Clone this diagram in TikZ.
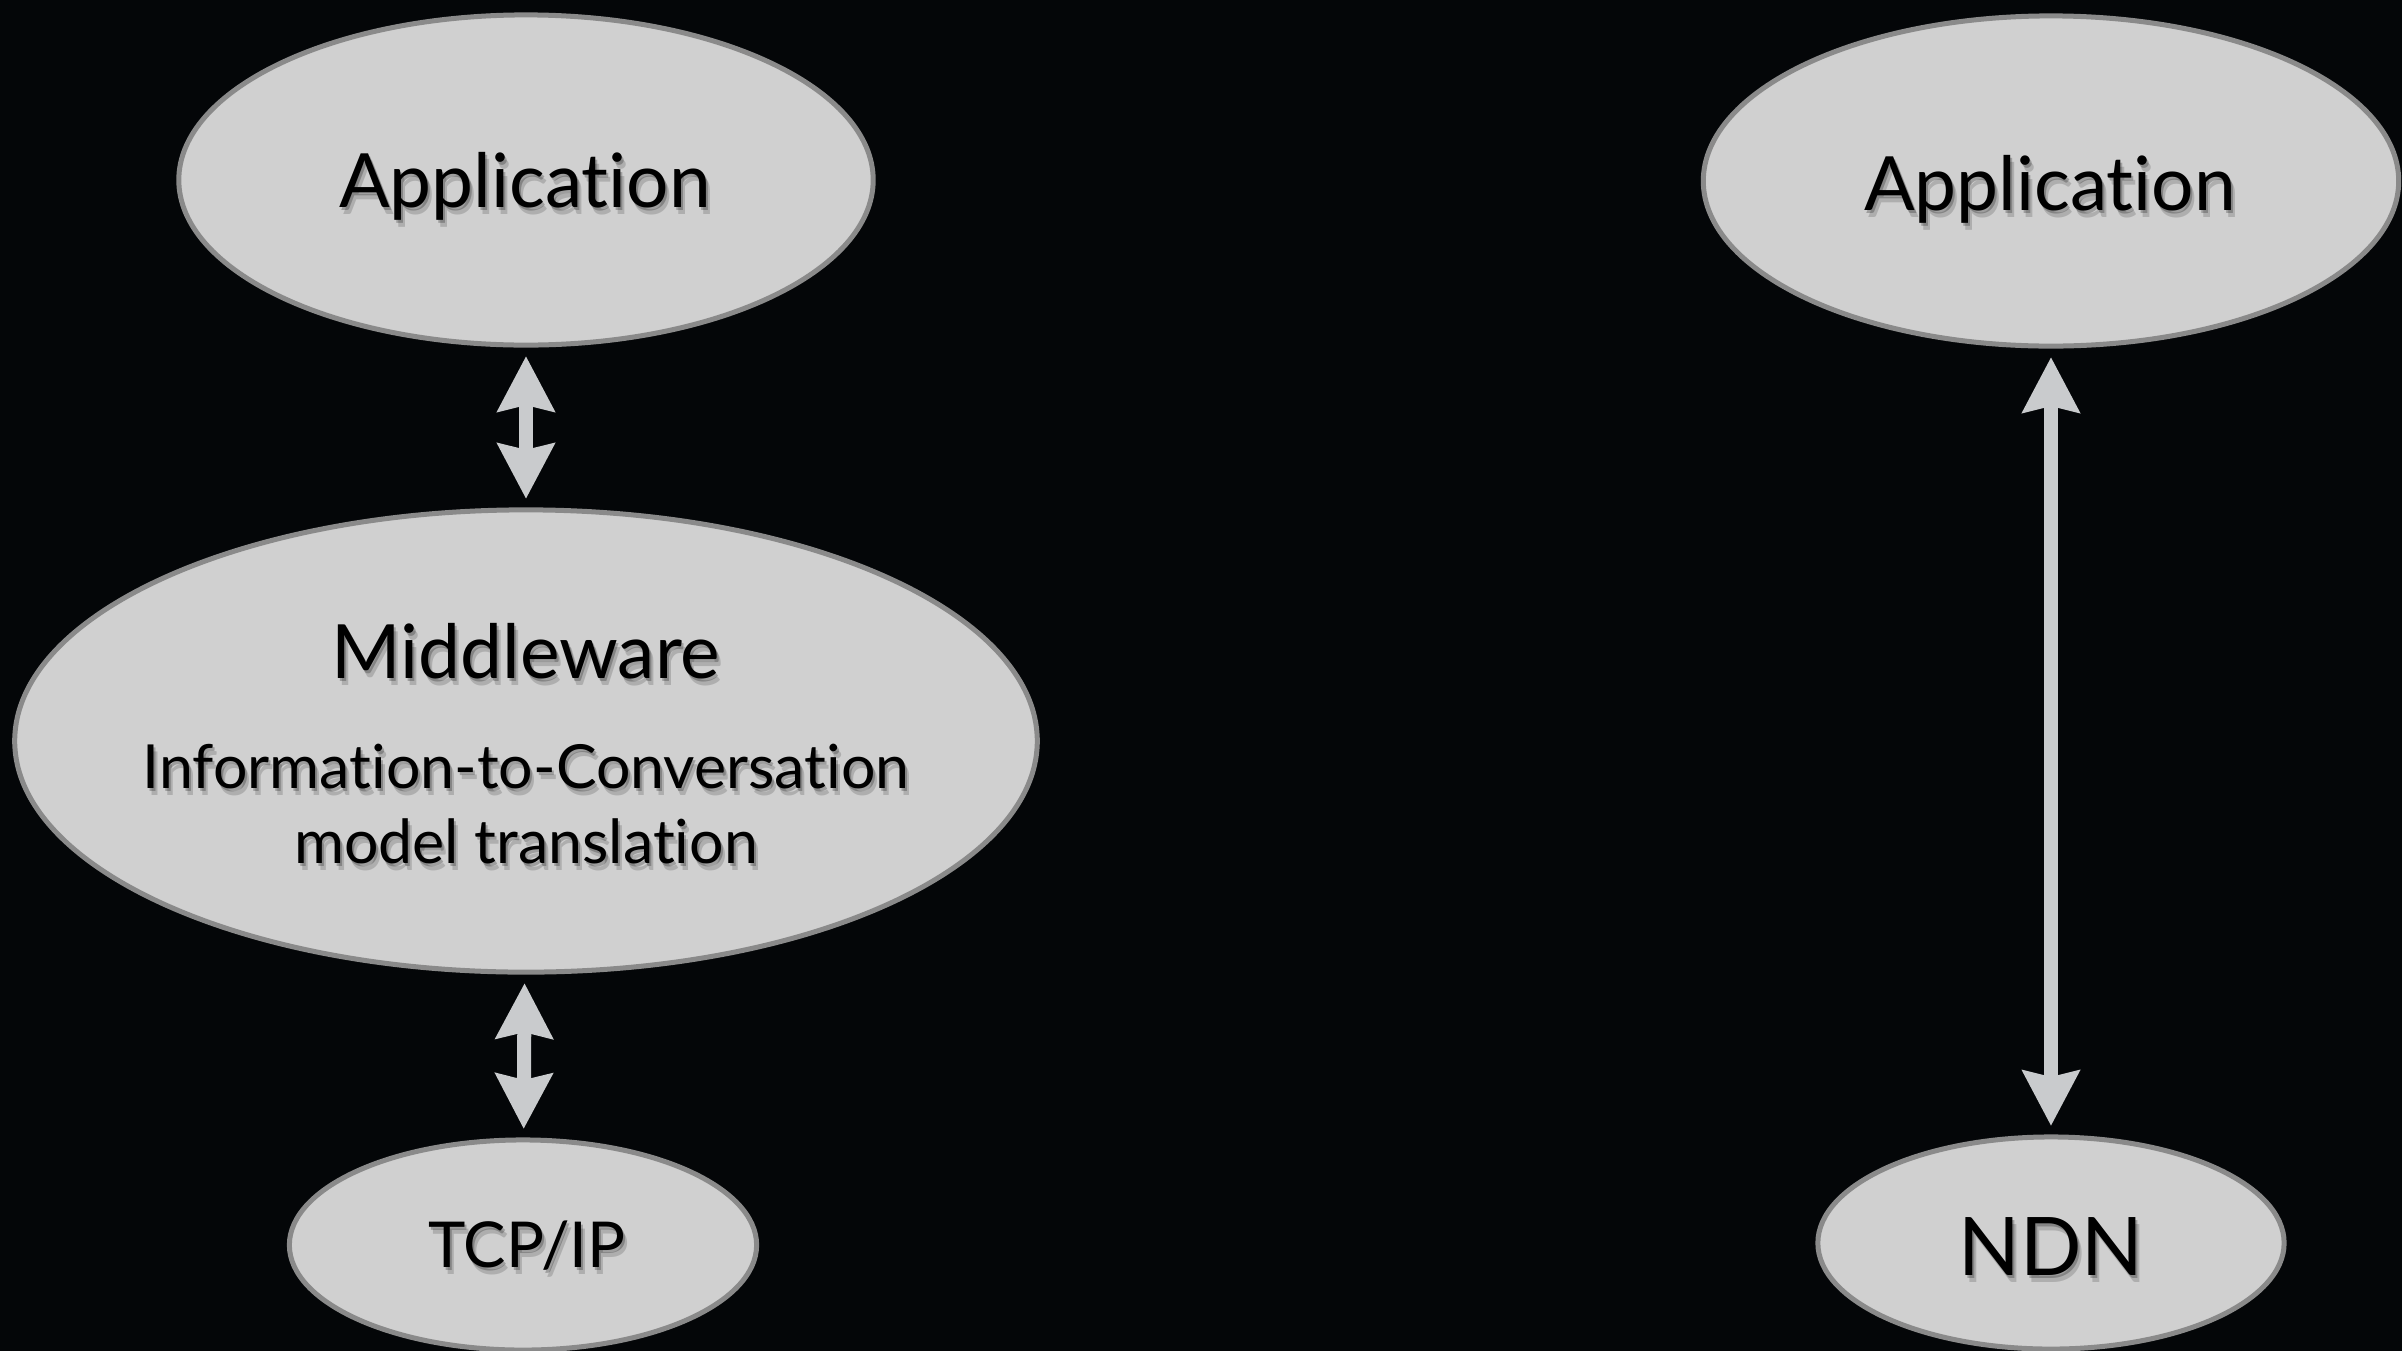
\documentclass[tikz,border=0pt]{standalone}
\usepackage{fontspec}
\setmainfont{Lato}[Ligatures={NoCommon,NoRequired,NoContextual},Contextuals=NoAlternate]
\usetikzlibrary{arrows.meta,shapes.geometric}

\definecolor{bg}{RGB}{4,6,8}
\definecolor{bubble}{RGB}{208,208,208}
\definecolor{rim}{RGB}{138,138,138}
\definecolor{link}{RGB}{201,203,205}

\tikzset{
  layer/.style={ellipse, fill=bubble, draw=rim, line width=0.05cm,
                inner sep=0pt, outer sep=0pt},
  biarrow/.style={draw=link, line width=0.14cm,
                  {Stealth[length=0.55cm,width=0.56cm,inset=0.06cm]}-{Stealth[length=0.55cm,width=0.56cm,inset=0.06cm]},
                  shorten <=0.11cm, shorten >=0.11cm},
  layertext/.style={text=black, inner sep=0pt, anchor=base},
  bigfont/.style={font=\fontsize{21.3pt}{25pt}\selectfont},
  subfont/.style={font=\fontsize{17.3pt}{20pt}\selectfont},
}

% text with a soft drop shadow: name, baseline point, style, text
\newcommand\shadedtext[4]{%
  \node[layertext,#3,text opacity=0.16,xshift=0.04cm,yshift=-0.07cm] (#1s2) at (#2) {#4};
  \node[layertext,#3,text opacity=0.24,xshift=0.02cm,yshift=-0.035cm] (#1s1) at (#2) {#4};
  \node[layertext,#3] (#1) at (#2) {#4};}

\begin{document}
\begin{tikzpicture}[x=0.01cm,y=-0.01cm]
  \fill[bg] (0,0) rectangle (2402,1351);
  \useasboundingbox (0,0) rectangle (2402,1351);

  % left stack: Application / Middleware / TCP/IP
  \node[layer, minimum width=6.94cm, minimum height=3.30cm] (appL) at (526,180) {};
  \node[layer, minimum width=10.22cm, minimum height=4.62cm] (mid) at (526,741) {};
  \node[layer, minimum width=4.67cm, minimum height=2.10cm] (tcp) at (523,1245) {};

  % right stack: Application / NDN
  \node[layer, minimum width=6.95cm, minimum height=3.30cm] (appR) at (2051,181) {};
  \node[layer, minimum width=4.66cm, minimum height=2.12cm] (ndn) at (2051,1243) {};

  % connectors
  \draw[biarrow] (appL) -- (mid);
  \draw[biarrow] (mid) -- (tcp);
  \draw[biarrow] (appR) -- (ndn);

  % labels
  \shadedtext{appLt}{525,207}{bigfont}{Application}
  \shadedtext{midt}{526,678}{bigfont}{Middleware}
  \shadedtext{midta}{526,788}{subfont}{Information-to-Conversation}
  \shadedtext{midtb}{526,863}{subfont}{model translation}
  \shadedtext{tcpt}{527,1267}{font=\fontsize{18pt}{21pt}\selectfont}{TCP/IP}
  \shadedtext{appRt}{2050,210}{bigfont}{Application}
  \shadedtext{ndnt}{2051,1275}{font=\fontsize{23pt}{27pt}\selectfont}{NDN}
\end{tikzpicture}
\end{document}
